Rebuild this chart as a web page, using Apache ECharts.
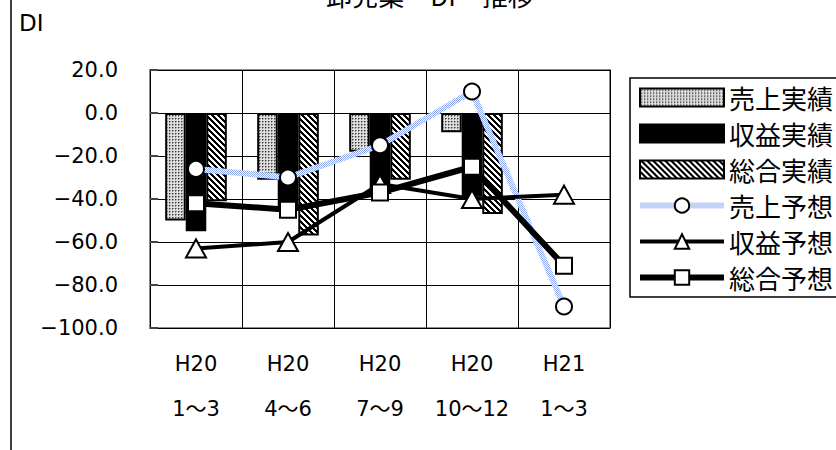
<!DOCTYPE html>
<html><head><meta charset="utf-8">
<script src="https://cdn.jsdelivr.net/npm/echarts@6/dist/echarts.min.js"></script>
<style>html,body{margin:0;padding:0;background:#fff}#c{width:836px;height:450px}</style>
</head><body><div id="c"></div>
<script>
const categories = ['H20\n1〜3', 'H20\n4〜6', 'H20\n7〜9', 'H20\n10〜12', 'H21\n1〜3'];
const seriesNames = ['売上実績', '収益実績', '総合実績', '売上予想', '収益予想', '総合予想'];
const salesActual = [-50, -31, -18, -9, null];
const profitActual = [-55, -45, -36, -39, null];
const totalActual = [-41, -57, -31, -47, null];
const salesForecast = [-26, -30, -15, 10, -90];
const profitForecast = [-63, -60, -33, -40, -38];
const totalForecast = [-42, -45, -37, -25, -71];
const yMin = -100, yMax = 20, yStep = 20;
const titleText = '卸売業　DI　推移';
const yName = 'DI';

function mk(w, h, fn) { const c = document.createElement('canvas'); c.width = w; c.height = h; const g = c.getContext('2d'); fn(g, w, h); return c; }
const dotCanvas = mk(3, 3, (g) => { g.fillStyle = '#dedede'; g.fillRect(0, 0, 3, 3); g.fillStyle = '#3c3c3c'; g.fillRect(1, 1, 1, 1); g.fillStyle = '#8c8c8c'; g.fillRect(2, 1, 1, 1); g.fillRect(1, 2, 1, 1); });
const hatchCanvas = mk(6, 6, (g) => { for (let x = 0; x < 6; x++) for (let y = 0; y < 6; y++) { g.fillStyle = (((x - y) % 6 + 6) % 6) < 3 ? '#000' : '#fff'; g.fillRect(x, y, 1, 1); } });
const blueCanvas = mk(2, 2, (g) => { g.fillStyle = '#ffffff'; g.fillRect(0, 0, 2, 2); g.fillStyle = '#8da6f0'; g.fillRect(0, 0, 1, 1); g.fillRect(1, 1, 1, 1); });
const dotPat = { image: dotCanvas, repeat: 'repeat' };
const hatchPat = { image: hatchCanvas, repeat: 'repeat' };
const bluePat = { image: blueCanvas, repeat: 'repeat' };

const FONT = "'Noto Sans CJK JP', sans-serif";
const LFONT = "'DejaVu Sans', 'Noto Sans CJK JP', sans-serif";
const chart = echarts.init(document.getElementById('c'), null, { renderer: 'svg' });
const barBase = { type: 'bar', barGap: '0%', barCategoryGap: '33%', z: 2 };
chart.setOption({
  animation: false,
  backgroundColor: '#fff',
  textStyle: { fontFamily: FONT, color: '#000' },
  grid: { left: 150, top: 70, width: 460, height: 258, show: true, borderColor: '#8c8c8c', borderWidth: 2, backgroundColor: 'transparent' },
  graphic: [
    { type: 'line', shape: { x1: 11, y1: 0, x2: 11, y2: 450 }, style: { stroke: '#000', lineWidth: 1.5 } },
    { type: 'text', x: 430, y: -19, style: { text: titleText, fontSize: 26, fontFamily: FONT, fill: '#000', textAlign: 'center', textVerticalAlign: 'top' } },
    { type: 'text', x: 19, y: 11, style: { text: yName, fontSize: 23, fontFamily: LFONT, fill: '#000', textVerticalAlign: 'top' } }
  ],
  legend: {
    orient: 'vertical', left: 630, top: 78,
    borderColor: '#000', borderWidth: 1.5, padding: [6, 20, 6, 7],
    itemWidth: 84, itemHeight: 18, itemGap: 9,
    textStyle: { fontSize: 26, lineHeight: 27, fontFamily: FONT, color: '#000' },
    data: [
      { name: seriesNames[0], icon: 'rect' },
      { name: seriesNames[1], icon: 'rect' },
      { name: seriesNames[2], icon: 'rect' },
      { name: seriesNames[3], lineStyle: { color: bluePat, width: 6 } },
      { name: seriesNames[4], lineStyle: { color: '#000', width: 4 } },
      { name: seriesNames[5], lineStyle: { color: '#000', width: 6 } }
    ]
  },
  xAxis: {
    type: 'category', data: categories, boundaryGap: true,
    axisLine: { show: false }, axisTick: { show: false },
    axisLabel: { fontSize: 21, lineHeight: 45, margin: 13, color: '#000', fontFamily: LFONT, interval: 0 },
    splitLine: { show: true, interval: 0, lineStyle: { color: '#000', width: 1 } }
  },
  yAxis: {
    type: 'value', min: yMin, max: yMax, interval: yStep,
    axisLine: { show: false },
    axisTick: { show: true, inside: true, length: 8, lineStyle: { color: '#444', width: 2 } },
    axisLabel: { fontSize: 21, margin: 32, color: '#000', fontFamily: LFONT, formatter: (v) => (v < 0 ? '−' : '') + Math.abs(v).toFixed(1) },
    splitLine: { show: true, lineStyle: { color: '#000', width: 1 } }
  },
  series: [
    Object.assign({}, barBase, { name: seriesNames[0], data: salesActual, itemStyle: { color: dotPat, borderColor: '#000', borderWidth: 2 } }),
    Object.assign({}, barBase, { name: seriesNames[1], data: profitActual, itemStyle: { color: '#000', borderColor: '#000', borderWidth: 2 } }),
    Object.assign({}, barBase, { name: seriesNames[2], data: totalActual, itemStyle: { color: hatchPat, borderColor: '#000', borderWidth: 2 } }),
    { type: 'line', name: seriesNames[3], data: salesForecast, z: 3, symbol: 'circle', symbolSize: 16,
      lineStyle: { color: bluePat, width: 6 }, itemStyle: { color: '#fff', borderColor: '#000', borderWidth: 2 } },
    { type: 'line', name: seriesNames[4], data: profitForecast, z: 4, symbol: 'triangle', symbolSize: [20, 18],
      lineStyle: { color: '#000', width: 4 }, itemStyle: { color: '#fff', borderColor: '#000', borderWidth: 2 } },
    { type: 'line', name: seriesNames[5], data: totalForecast, z: 5, symbol: 'rect', symbolSize: 16,
      lineStyle: { color: '#000', width: 6 }, itemStyle: { color: '#fff', borderColor: '#000', borderWidth: 2 } }
  ]
});
</script></body></html>
